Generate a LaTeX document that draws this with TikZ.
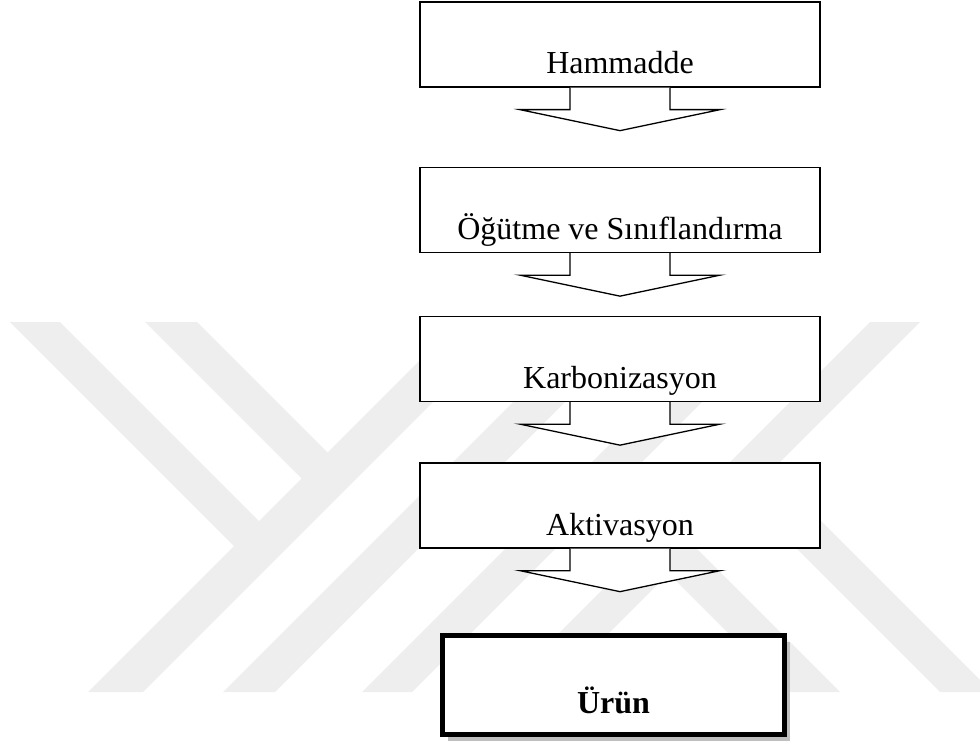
\documentclass[tikz,border=0pt]{standalone}
\usepackage{fontspec}
\setmainfont{Liberation Serif}
\usetikzlibrary{shadows}

\definecolor{logogray}{RGB}{238,238,238}

\tikzset{
  procbox/.style={draw, fill=white, line width=1.3pt, minimum width=400pt,
    inner sep=0pt, text height=72pt, text depth=13pt,
    font=\fontsize{32}{38}\selectfont},
  endbox/.style={draw, fill=white, line width=5pt, minimum width=342pt,
    inner sep=0pt, text height=77.5pt, text depth=21.5pt,
    font=\fontsize{32}{38}\selectfont\bfseries,
    drop shadow={shadow xshift=5pt, shadow yshift=-6pt, fill=black!25, opacity=1}},
  blockarrow/.style={draw, fill=white, line width=1.3pt, line join=miter}
}

\begin{document}
\begin{tikzpicture}[x=1pt, y=-1pt]
        \useasboundingbox (0,0) rectangle (980,746);

        % watermark
        \begin{scope}
        \clip (0,0) rectangle (980,746);
        \fill[logogray] (88,692) -- (143,692) -- (513,322) -- (458,322) -- cycle;
        \fill[logogray] (10,322) -- (60,322) -- (269,531) -- (244,556) -- cycle;
        \fill[logogray] (145,322) -- (197,322) -- (337.5,462.5) -- (311.5,488.5) -- cycle;
        \fill[logogray] (223,692) -- (275,692) -- (645,322) -- (593,322) -- cycle;
        \fill[logogray] (362,692) -- (412,692) -- (782,322) -- (732,322) -- cycle;
        \fill[logogray] (500,692) -- (550,692) -- (920,322) -- (870,322) -- cycle;
        \fill[logogray] (787,692) -- (840,692) -- (685,537) -- (658.5,563.5) -- cycle;
        \fill[logogray] (940,692) -- (992,692) -- (761,461) -- (735,487) -- cycle;
        \end{scope}

        \node (hammadde) [procbox] at (620,44.5) {Hammadde};
        \node (ogutme) [procbox] at (620,210) {Öğütme ve Sınıflandırma};
        \node (karbon) [procbox] at (620,359) {Karbonizasyon};
        \node (aktiv) [procbox] at (620,505.5) {Aktivasyon};
        \node (urun) [endbox] at (613.5,685) {Ürün};

        \foreach \b in {hammadde,ogutme,karbon,aktiv}
            \draw[blockarrow] (\b.south) ++(-50,0) -- ++(0,22) -- ++(-50,0) -- ++(100,21)
                -- ++(100,-21) -- ++(-50,0) -- ++(0,-22);
\end{tikzpicture}
\end{document}
